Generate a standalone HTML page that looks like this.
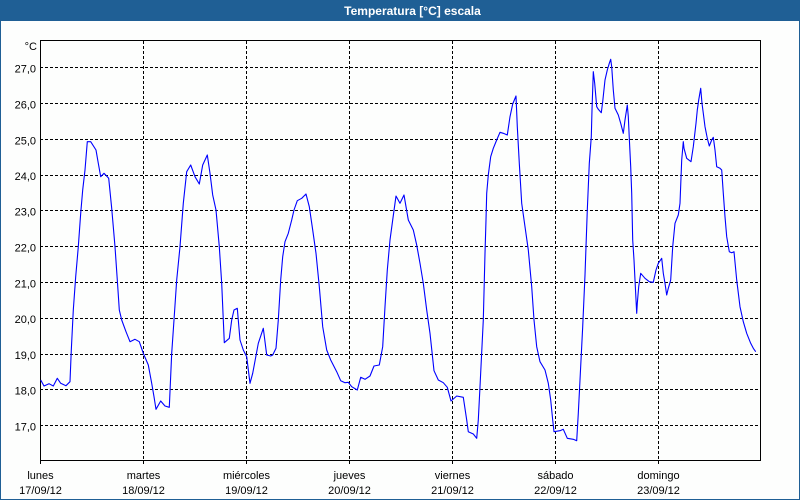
<!DOCTYPE html>
<html><head><meta charset="utf-8"><style>
html,body{margin:0;padding:0;background:#fff;}
svg{display:block;}
text{font-family:"Liberation Sans",Arial,sans-serif;}
</style></head><body>
<svg width="800" height="500" viewBox="0 0 800 500" xmlns="http://www.w3.org/2000/svg">
<rect x="0" y="0" width="800" height="500" fill="#1f5f95"/>
<rect x="1" y="21" width="798" height="478" fill="#fdfefd"/>
<text x="412.5" y="15" font-size="12" font-weight="bold" fill="#fff" text-anchor="middle">Temperatura [°C] escala</text>
<g stroke="#000" stroke-width="1" stroke-dasharray="3,2" fill="none">
<line x1="40" y1="67.5" x2="760" y2="67.5"/>
<line x1="40" y1="103.5" x2="760" y2="103.5"/>
<line x1="40" y1="139.5" x2="760" y2="139.5"/>
<line x1="40" y1="175.5" x2="760" y2="175.5"/>
<line x1="40" y1="210.5" x2="760" y2="210.5"/>
<line x1="40" y1="246.5" x2="760" y2="246.5"/>
<line x1="40" y1="282.5" x2="760" y2="282.5"/>
<line x1="40" y1="318.5" x2="760" y2="318.5"/>
<line x1="40" y1="354.5" x2="760" y2="354.5"/>
<line x1="40" y1="389.5" x2="760" y2="389.5"/>
<line x1="40" y1="425.5" x2="760" y2="425.5"/>
<line x1="143.5" y1="41" x2="143.5" y2="464"/>
<line x1="246.5" y1="41" x2="246.5" y2="464"/>
<line x1="349.5" y1="41" x2="349.5" y2="464"/>
<line x1="452.5" y1="41" x2="452.5" y2="464"/>
<line x1="555.5" y1="41" x2="555.5" y2="464"/>
<line x1="658.5" y1="41" x2="658.5" y2="464"/>
</g>
<rect x="40.5" y="40.5" width="720" height="420" fill="none" stroke="#000" stroke-width="1"/>
<line x1="40.5" y1="460" x2="40.5" y2="464" stroke="#000"/>
<polyline fill="none" stroke="#0000ff" stroke-width="1.1" stroke-linejoin="round" points="
40.7,380 44,386 49,383.7 53.3,386 57.3,378.3 60.7,383.3 66,385.7 70,381.7 71.3,350 73.3,310 75.7,276.7 78.3,246.7 80.7,213.3 82.7,190 85,170 87.3,141.7 90.7,141.7 96,150 98.3,163.3 100.7,176.7 104,173.3 108.7,178.3 111.7,208.3 115,246.7 117.3,280 119.3,310 121.7,320 126,331.7 130,341.7 135,339.3 139.3,341.7 143.3,353.3 148.3,365 151.7,383.3 154,396.7 156,409.3 160.7,401 165,406 169.3,407.3 171.7,353.3 174,320 176.7,280 180,246.7 183.3,203.3 186.7,171.7 190.7,165 195,176.7 199.3,184 202.7,165 207.3,155 210,173.3 212.7,195 216,210 219.3,246.7 221.7,283.3 223.3,320 224.3,342.7 229.3,338.3 231.7,320 234,310 237.3,308.3 240,340 243.3,350 246.7,356.7 250,383.3 252.7,373.3 258.3,343.3 263.3,328.3 266.7,355 270.7,356
272.7,355 276,348.3 278.3,320 280.7,280 282.7,256.7 285,241.7 288.3,233.3 291.7,220 294,210 297.3,200.7 301.7,198.3 306,194 309.3,206.7 312.7,230 316,253.3 319.3,286.7 322.7,326.7 326.7,350 330.7,360 336.7,371.7 340.7,380.7 345,382.7 348.3,382.3 351.7,386.7 357.3,390 360.7,377.3 365,379.3 370,376 374,366 379.3,365 382.7,346.7 385,306.7 387.3,270 390,240 392.7,220 396,196 400,203.3 404,195 408.3,220 413.3,230 416.7,245 420,263.3 423.3,283.3 426.7,310 430,333.3 434,370.7 438.3,380 443.3,382.7 447.3,387.3 451,401 456.7,396 463.3,397.3 466.7,420 468.3,431.7 473.3,434 476.7,438.3 478.3,420 480,386.7 483.3,320
485,253.3 486,220 486.7,193.3 488.3,175 490.7,156.7 493.3,148.3 496.7,140 500,132.3 503.3,133.3 507.3,135 510,116.7 512.7,104 516,96 517.3,126.7 519.3,163.3 521.7,203.3 525,226.7 528.3,250 531.7,286.7 534,320 536.7,346.7 540,361.7 545,370 548.3,383.3 550.7,400 552.7,420 554,431.7 560,430.7 563.3,429.3 567.3,438.3 573.3,439.3 576.7,440.7 578.3,413.3 580,380 582.7,326.7 585,275 587.3,210
589.3,163.3 591.3,136.7 592,110 593.3,71.7 594.7,83.3 596.7,106.7 598.3,109.3 601.3,112.7 602.7,101.7 605,80 607.3,70 609.3,63.3 610.7,59.3 611.7,66.7 613.3,90 615,108.3 618.3,115 620.7,123.3 623.3,133.3 625,120 627.3,105 628.3,116.7 629.3,138.3 630.7,166.7 631.7,193.3 632.7,240 634,260 635,280 636.7,313.3 637.3,303.3 638.7,286.7 640.7,273.3 645,278.3 649.3,281.7 653.3,282.3 656,270 658.3,263.3 661.7,258.3 663.3,273.3 665,283.3 666.7,295 668.3,288.3 670.7,280 672.7,246.7 675,223.3 678.3,215 680,203.3 681.7,160 683.3,141.7 684,148.3 686.7,158.3 691,161.7 693.3,146.7 696,123.3 697.3,110 698.7,100 700.7,88.3 702,103.3 703.3,113.3 705,126.7 707.3,138.3 709.3,146 711.7,140 713.3,137.3 715,150 716.7,166.7 720,168.3 721.7,170 723.3,193.3 725,216.7 726.7,236.7 729.3,251.7 731.7,252.7 734,251.7 736.7,280 740,306.7 743.3,321.7 746.7,333.3 750.7,343.3 753.3,348.3 755.7,351.7"/>
<g font-size="11" fill="#000" text-anchor="end">
<text x="37" y="50">°C</text>
<text x="36" y="72.5">27,0</text>
<text x="36" y="108.5">26,0</text>
<text x="36" y="144.5">25,0</text>
<text x="36" y="180">24,0</text>
<text x="36" y="215.5">23,0</text>
<text x="36" y="251.5">22,0</text>
<text x="36" y="287.5">21,0</text>
<text x="36" y="323">20,0</text>
<text x="36" y="359">19,0</text>
<text x="36" y="394.5">18,0</text>
<text x="36" y="430.5">17,0</text>
</g>
<g font-size="11" fill="#000" text-anchor="middle">
<text x="40.5" y="479">lunes</text><text x="40.5" y="494">17/09/12</text>
<text x="143.5" y="479">martes</text><text x="143.5" y="494">18/09/12</text>
<text x="246.5" y="479">miércoles</text><text x="246.5" y="494">19/09/12</text>
<text x="349.5" y="479">jueves</text><text x="349.5" y="494">20/09/12</text>
<text x="452.5" y="479">viernes</text><text x="452.5" y="494">21/09/12</text>
<text x="555.5" y="479">sábado</text><text x="555.5" y="494">22/09/12</text>
<text x="658.5" y="479">domingo</text><text x="658.5" y="494">23/09/12</text>
</g>
</svg>
</body></html>
